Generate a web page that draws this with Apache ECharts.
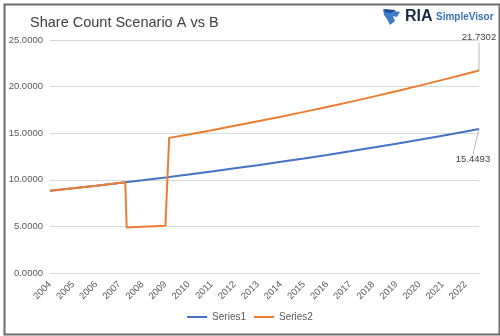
<!DOCTYPE html>
<html>
<head>
<meta charset="utf-8">
<script src="https://cdn.jsdelivr.net/npm/echarts@6/dist/echarts.min.js"></script>
<style>
html,body{margin:0;padding:0;background:#fff;}
#chart{width:500px;height:336px;}
</style>
</head>
<body>
<div id="chart"></div>
<script>
// ---- data (decimal years on x) ----
const series1Names = 'Series1';
const series2Names = 'Series2';
const s1X = [2004, 2005, 2006, 2007, 2008, 2009, 2010, 2011, 2012, 2013, 2014, 2015, 2016, 2017, 2018, 2019, 2020, 2021, 2022, 2022.58];
const s1Y = [8.820, 9.090, 9.369, 9.656, 9.951, 10.256, 10.570, 10.894, 11.228, 11.572, 11.926, 12.291, 12.667, 13.055, 13.455, 13.867, 14.292, 14.730, 15.181, 15.4493];
const s2X = [2004, 2005, 2006, 2007, 2007.26, 2007.32, 2008, 2009, 2009.08, 2009.16, 2010, 2011, 2012, 2013, 2014, 2015, 2016, 2017, 2018, 2019, 2020, 2021, 2022, 2022.58];
const s2Y = [8.820, 9.090, 9.369, 9.656, 9.731, 4.88, 4.96, 5.08, 5.10, 14.50, 14.868, 15.324, 15.793, 16.277, 16.775, 17.289, 17.817, 18.363, 18.926, 19.505, 20.103, 20.719, 21.354, 21.7302];
const yTicks = [0, 5, 10, 15, 20, 25];
const xMin = 2004, xMax = 2022.58;

function build(xs, ys) {
  return xs.map((x, i) => {
    const item = { value: [x, ys[i]] };
    if (i === xs.length - 1) {
      item.label = { show: true };
      item.labelLine = { show: true };
    }
    return item;
  });
}

const chart = echarts.init(document.getElementById('chart'), null, { renderer: 'canvas' });
const labelFont = 'Liberation Sans, Arial, sans-serif';

chart.setOption({
  animation: false,
  backgroundColor: '#ffffff',
  title: {
    text: 'Share Count Scenario A vs B',
    left: 25, top: 10,
    textStyle: { fontFamily: labelFont, fontSize: 14.5, fontWeight: 'normal', color: '#404040' }
  },
  legend: {
    data: [series1Names, series2Names],
    left: 'center', top: 307,
    icon: 'rect', itemWidth: 20, itemHeight: 2, itemGap: 8,
    textStyle: { fontFamily: labelFont, fontSize: 10, color: '#595959' }
  },
  grid: { left: 50, right: 21, top: 40, bottom: 63 },
  xAxis: {
    type: 'value', min: xMin, max: xMax, interval: 1,
    axisLine: { show: true, lineStyle: { color: '#d9d9d9', width: 1 } },
    axisTick: { show: false },
    splitLine: { show: false },
    axisLabel: {
      rotate: 45, margin: 10,
      fontFamily: labelFont, fontSize: 9.5, color: '#595959',
      showMaxLabel: false,
      formatter: v => (Math.abs(v - Math.round(v)) < 1e-6 ? String(Math.round(v)) : '')
    }
  },
  yAxis: {
    type: 'value', min: yTicks[0], max: yTicks[yTicks.length - 1], interval: 5,
    axisLine: { show: false }, axisTick: { show: false },
    splitLine: { lineStyle: { color: '#d9d9d9', width: 1 } },
    axisLabel: {
      margin: 7, fontFamily: labelFont, fontSize: 9.5, color: '#595959',
      formatter: v => v.toFixed(4)
    }
  },
  series: [
    {
      name: series1Names, type: 'line', showSymbol: true, symbol: 'circle', symbolSize: 0.01,
      lineStyle: { color: '#4472C4', width: 2 }, itemStyle: { color: '#4472C4' },
      data: build(s1X, s1Y),
      label: { position: 'bottom', fontFamily: labelFont, fontSize: 9.5, color: '#404040',
        formatter: p => p.value[1].toFixed(4) },
      labelLine: { lineStyle: { color: '#a6a6a6', width: 0.8 } },
      labelLayout: { dx: -6, dy: 20 }
    },
    {
      name: series2Names, type: 'line', showSymbol: true, symbol: 'circle', symbolSize: 0.01,
      lineStyle: { color: '#ED7D31', width: 2 }, itemStyle: { color: '#ED7D31' },
      data: build(s2X, s2Y),
      label: { position: 'top', fontFamily: labelFont, fontSize: 9.5, color: '#404040',
        formatter: p => p.value[1].toFixed(4) },
      labelLine: { lineStyle: { color: '#a6a6a6', width: 0.8 } },
      labelLayout: { dx: 0, dy: -23 }
    }
  ],
  graphic: [
    { type: 'rect', left: 2, top: 2, shape: { width: 495, height: 330 },
      style: { fill: 'none', stroke: '#6b6b6b', lineWidth: 2 }, silent: true },
    { type: 'polygon', shape: { points: [[383,9],[400,12],[397,17],[393,16],[395,21],[390,25],[387,19],[384,15]] },
      style: { fill: '#3d7cc9' }, silent: true },
    { type: 'polygon', shape: { points: [[384,9],[396,10],[391,13],[385,12]] },
      style: { fill: '#1f4f8f' }, silent: true },
    { type: 'text', left: 405, top: 9,
      style: { text: 'RIA', font: 'bold 16px Liberation Sans, Arial, sans-serif', fill: '#1b2a47' }, silent: true },
    { type: 'text', left: 436, top: 12,
      style: { text: 'SimpleVisor', font: 'bold 10px Liberation Sans, Arial, sans-serif', fill: '#3a72b8' }, silent: true }
  ]
});
</script>
</body>
</html>
